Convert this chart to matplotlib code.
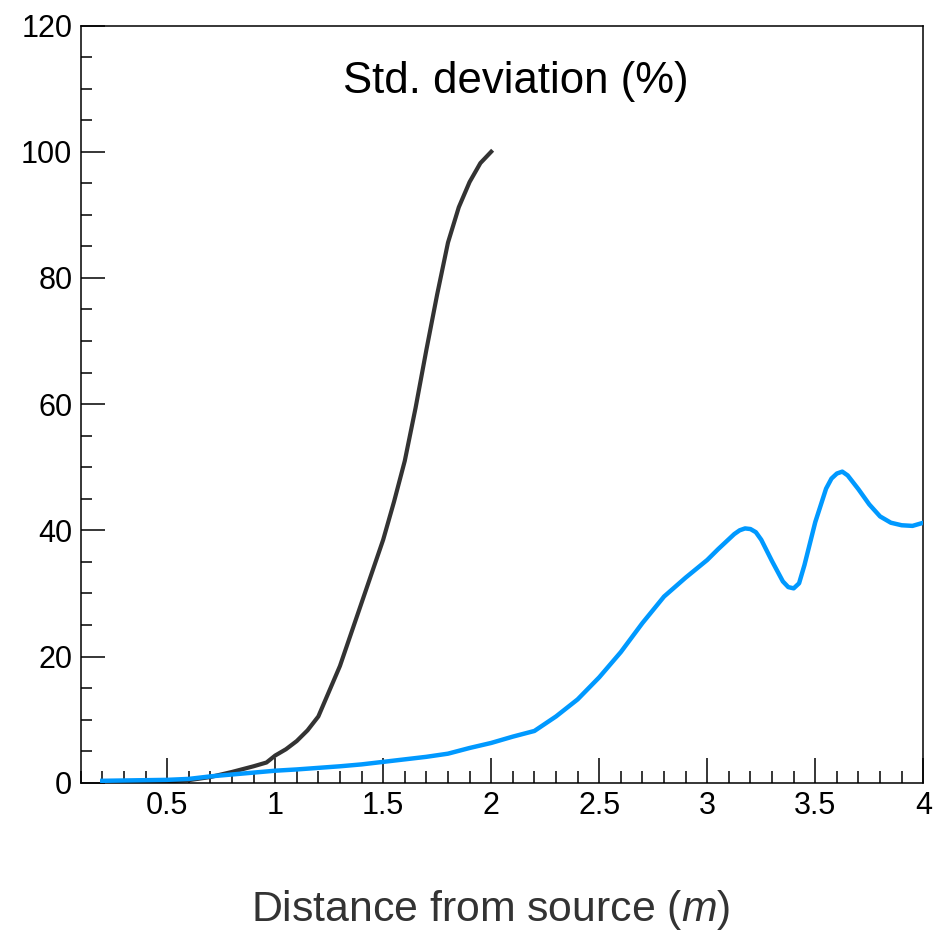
import matplotlib
matplotlib.use('Agg')
import matplotlib.pyplot as plt
from matplotlib.ticker import MultipleLocator

plt.rcParams['font.family'] = ['Liberation Sans', 'DejaVu Sans']
plt.rcParams['mathtext.fontset'] = 'custom'
plt.rcParams['mathtext.it'] = 'Liberation Sans:italic'
plt.rcParams['mathtext.rm'] = 'Liberation Sans'

# black curve
dist_black = [0.2, 0.3, 0.4, 0.5, 0.6, 0.7, 0.8, 0.9, 0.96, 1.0, 1.05, 1.1, 1.15,
              1.2, 1.25, 1.3, 1.35, 1.4, 1.45, 1.5, 1.55, 1.6, 1.65, 1.7, 1.75,
              1.8, 1.85, 1.9, 1.95, 2.0]
std_black = [0.1, 0.1, 0.15, 0.2, 0.4, 0.9, 1.7, 2.6, 3.2, 4.3, 5.3, 6.6, 8.3,
             10.5, 14.5, 18.5, 23.5, 28.5, 33.5, 38.5, 44.5, 51.0, 59.4, 68.6, 77.4,
             85.6, 91.2, 95.2, 98.2, 100.0]

# blue curve
dist_blue = [0.2, 0.3, 0.4, 0.5, 0.6, 0.7, 0.8, 0.9, 1.0, 1.1, 1.2, 1.3, 1.4, 1.5,
             1.6, 1.7, 1.8, 1.9, 2.0, 2.1, 2.2, 2.3, 2.4, 2.5, 2.6, 2.7, 2.8, 2.9,
             3.0, 3.05, 3.1, 3.125, 3.15, 3.175, 3.2, 3.225, 3.25, 3.3, 3.35, 3.375,
             3.4, 3.425, 3.45, 3.5, 3.55, 3.575, 3.6, 3.625, 3.65, 3.7, 3.75, 3.8,
             3.85, 3.9, 3.95, 4.0]
std_blue = [0.3, 0.35, 0.4, 0.45, 0.6, 1.0, 1.3, 1.6, 1.9, 2.1, 2.35, 2.6, 2.9, 3.3,
            3.7, 4.1, 4.6, 5.5, 6.3, 7.3, 8.2, 10.5, 13.2, 16.7, 20.7, 25.3, 29.5, 32.5,
            35.3, 37.0, 38.6, 39.4, 40.0, 40.3, 40.2, 39.7, 38.5, 35.1, 31.9, 31.0,
            30.8, 31.6, 34.5, 41.3, 46.6, 48.2, 49.0, 49.3, 48.7, 46.5, 44.1, 42.2,
            41.2, 40.8, 40.7, 41.2]

fig = plt.figure(figsize=(9.46, 9.32), dpi=100)
ax = fig.add_axes([0.0853, 0.1602, 0.8907, 0.8124])

ax.plot(dist_black, std_black, color='#333333', lw=3.0, zorder=2,
        solid_joinstyle='round')
ax.plot(dist_blue, std_blue, color='#0099ff', lw=3.2, zorder=3,
        solid_joinstyle='round')

ax.set_xlim(0.1, 4.0)
ax.set_ylim(0, 120)
ax.xaxis.set_major_locator(MultipleLocator(0.5))
ax.xaxis.set_minor_locator(MultipleLocator(0.1))
ax.yaxis.set_major_locator(MultipleLocator(20))
ax.yaxis.set_minor_locator(MultipleLocator(5))
ax.set_xticks([0.5, 1, 1.5, 2, 2.5, 3, 3.5, 4])
ax.set_xticklabels(['0.5', '1', '1.5', '2', '2.5', '3', '3.5', '4'])
ax.tick_params(which='both', direction='in', top=False, right=False, width=1.1,
               labelsize=22)
ax.tick_params(axis='x', which='major', length=18, pad=6)
ax.tick_params(axis='x', which='minor', length=9)
ax.tick_params(axis='y', which='major', length=17, pad=6)
ax.tick_params(axis='y', which='minor', length=8)
for s in ax.spines.values():
    s.set_linewidth(1.1)

fig.text(0.5455, 0.913, 'Std. deviation (%)', fontsize=31.5, ha='center', va='center')
fig.text(0.519, 0.0236, 'Distance from source ($m$)', fontsize=30.8, ha='center',
         va='center', color='#333333')

fig.savefig('out.png', dpi=100)
